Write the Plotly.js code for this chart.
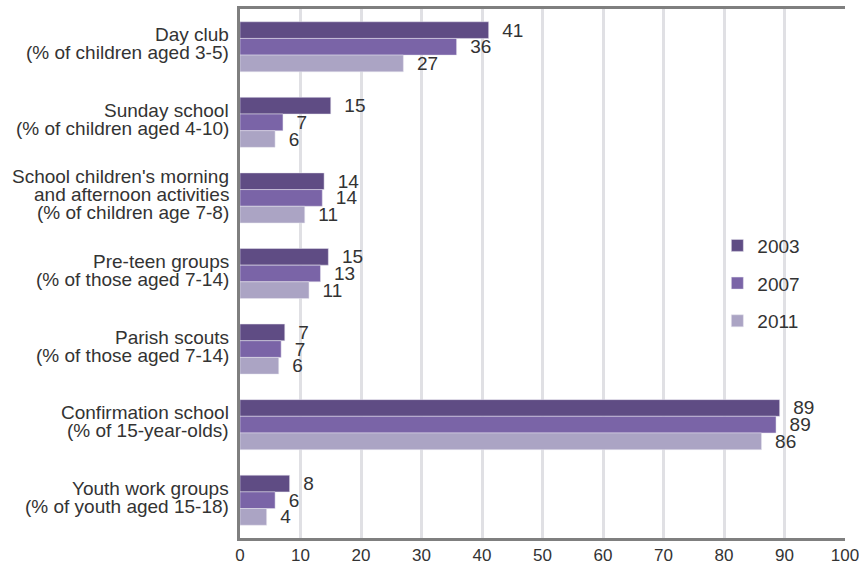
<!DOCTYPE html>
<html>
<head>
<meta charset="utf-8">
<script src="https://cdn.plot.ly/plotly-3.0.1.min.js"></script>
<style>html,body{margin:0;padding:0;background:#fff;}#chart{width:859px;height:567px;}</style>
</head>
<body>
<div id="chart"></div>
<script>
const categories = [
  "Day club<br>(% of children aged 3-5)",
  "Sunday school<br>(% of children aged 4-10)",
  "School children's morning<br>and afternoon activities<br>(% of children age 7-8)",
  "Pre-teen groups<br>(% of those aged 7-14)",
  "Parish scouts<br>(% of those aged 7-14)",
  "Confirmation school<br>(% of 15-year-olds)",
  "Youth work groups<br>(% of youth aged 15-18)"
];
const years = ["2003", "2007", "2011"];
const values2003 = [41.1, 15.0, 13.9, 14.6, 7.4, 89.2, 8.2];
const values2007 = [35.8, 7.1, 13.6, 13.3, 6.8, 88.6, 5.8];
const values2011 = [27.0, 5.8, 10.7, 11.4, 6.4, 86.2, 4.4];
const colors = ["#5f4c84", "#7a64a7", "#aba4c4"];
const xTicks = [0, 10, 20, 30, 40, 50, 60, 70, 80, 90, 100];

const FONT = "Liberation Sans, Arial, sans-serif";
const TXT = "#333333";
const series = [values2003, values2007, values2011];

const traces = series.map((vals, i) => ({
  type: "bar",
  orientation: "h",
  name: years[i],
  legendgroup: years[i],
  y: categories,
  x: vals,
  marker: {color: colors[i], line: {width: 0.5, color: "#e6e4ee"}},
  texttemplate: "\u00a0\u00a0%{x:.0f}",
  textposition: "outside",
  constraintext: "none",
  cliponaxis: false,
  textfont: {family: FONT, size: 19, color: TXT},
  hoverinfo: "x+name"
}));

const annotations = [];
categories.forEach(cat => {
  const lines = cat.split("<br>");
  const n = lines.length;
  lines.forEach((ln, i) => {
    annotations.push({
      xref: "paper", yref: "y",
      x: 0, y: cat,
      xanchor: "right", yanchor: "middle",
      xshift: -9,
      yshift: ((n - 1) / 2 - i) * 18 + 3,
      text: ln,
      showarrow: false,
      font: {family: FONT, size: 19, color: TXT}
    });
  });
});

const layout = {
  width: 859, height: 567,
  margin: {l: 240, r: 14, t: 9, b: 29},
  paper_bgcolor: "#ffffff",
  plot_bgcolor: "#ffffff",
  barmode: "group",
  bargap: 0.338,
  bargroupgap: 0,
  font: {family: FONT, size: 19, color: TXT},
  xaxis: {
    range: [0, 100],
    tickvals: xTicks,
    ticktext: xTicks.map(String),
    showgrid: true,
    gridcolor: "#e0e0e4",
    gridwidth: 3,
    zeroline: false,
    showline: true,
    mirror: true,
    linecolor: "#7f7f7f",
    linewidth: 3,
    ticks: "",
    ticklabeloverflow: "allow",
    tickfont: {family: FONT, size: 17, color: TXT},
    fixedrange: true
  },
  yaxis: {
    type: "category",
    autorange: "reversed",
    showticklabels: false,
    showgrid: false,
    zeroline: false,
    showline: true,
    linecolor: "#7f7f7f",
    linewidth: 3,
    ticks: "",
    fixedrange: true
  },
  legend: {
    x: 0.789, xanchor: "left",
    y: 0.481, yanchor: "middle",
    traceorder: "grouped",
    tracegroupgap: 10,
    bgcolor: "rgba(0,0,0,0)",
    font: {family: FONT, size: 19, color: TXT}
  },
  annotations: annotations,
  showlegend: true
};

Plotly.newPlot("chart", traces, layout, {displayModeBar: false, staticPlot: true});
</script>
</body>
</html>
